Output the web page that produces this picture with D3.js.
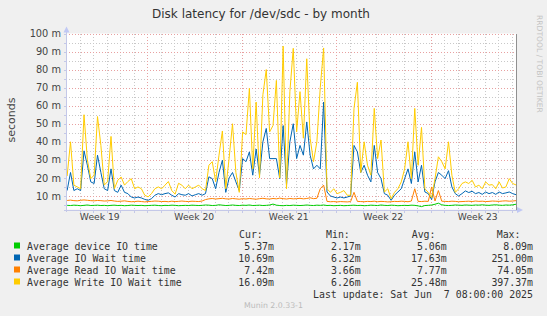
<!DOCTYPE html>
<html><head><meta charset="utf-8">
<script src="https://cdn.jsdelivr.net/npm/d3@7"></script>
<style>html,body{margin:0;padding:0;background:#f0f0f0;} svg{display:block;}</style>
</head><body>
<svg id="c" width="547" height="316"></svg>
<script>
// ---------- data ----------
const chartTitle = "Disk latency for /dev/sdc - by month";
const yAxisTitle = "seconds";
const sideText = "RRDTOOL / TOBI OETIKER";
const footerText = "Munin 2.0.33-1";
const lastUpdate = "Last update: Sat Jun  7 08:00:00 2025";

const seriesNames = ["Average device IO time", "Average IO Wait time", "Average Read IO Wait time", "Average Write IO Wait time"];
const seriesColors = ["#00CC00", "#0066B3", "#FF8000", "#FFCC00"];

const startTime = Date.UTC(2025, 4, 5, 0, 0, 0);
const endTime = Date.UTC(2025, 5, 7, 8, 0, 0);
const stepHours = 6;

// values in milliseconds (one sample per 6 hours, last sample = latest)
const deviceIO = [
4.8,4.7,4.9,4.8,4.6,4.8,5.0,4.7,4.8,4.9,
4.7,4.8,4.6,4.8,4.9,4.7,4.8,4.6,4.7,4.9,
4.8,4.7,4.8,4.6,4.7,4.8,4.9,4.7,4.6,4.8,
4.7,4.9,4.8,4.6,4.7,4.8,4.7,4.9,4.8,4.7,
4.8,5.0,4.9,4.7,4.8,5.1,4.9,4.7,4.8,5.0,
4.8,4.7,4.9,4.8,5.0,4.7,4.8,4.9,4.7,4.8,
5.0,5.5,4.9,4.7,4.6,4.8,4.7,4.9,4.8,4.7,
4.8,5.0,4.8,4.7,4.9,4.8,5.0,4.7,4.8,4.6,
4.7,4.8,4.6,4.7,4.8,4.9,4.7,4.8,4.6,4.7,
4.9,4.8,4.7,5.0,4.8,4.7,4.9,4.8,4.6,4.7,
4.8,4.7,4.9,4.8,4.5,4.1,4.7,4.8,5.0,5.4,
6.0,5.1,4.8,4.7,4.8,5.0,4.9,4.8,5.0,4.9,
4.8,5.0,4.9,5.1,4.9,4.8,5.0,5.1,4.9,4.8,
5.0,4.9,5.1,5.4
];
const ioWait = [
13,23,13,14,13,35,27,17.8,16.9,32.6,
23,14,13,25,13,12,16,12,11.3,9.4,
8.9,9.4,8.9,8.1,7.6,8.5,10.4,11.3,10.7,11.3,
11.7,10.4,9.4,11.3,10.7,10.4,11.3,10,10.7,11.3,
10.4,11.3,20.6,19.6,14,23,29.8,12,20,23,
17.8,13,30.7,29,34.4,21.5,36,21.5,40,47.4,
30.7,30.7,30.7,19.6,49,16,40,50,30.7,38,
32.6,51,32.6,25,27,25,62,12.2,10,9.4,
8.9,9.4,8.9,9.4,10,38,34.4,23,27,21.5,
17.8,38,23,19.6,11.3,10.4,7.6,10.4,12.2,14,
19.6,25,16.9,34.4,17.8,27,12.2,11.3,8,17.8,
23,21.5,19.6,24,15,11.3,10,11.3,12.8,11.9,
12.6,11.3,11.9,10.9,12.2,11.3,11.9,10.9,12.2,11.3,
11.7,12.2,11.3,10.7
];
const readWait = [
7.5,7.7,7.4,7.3,7.6,7.8,7.6,7.4,7.3,7.5,
7.4,7.2,7.3,7.5,7.2,7.0,7.1,7.3,7.0,6.8,
6.9,7.1,6.9,6.7,6.9,7.0,7.2,7.1,6.9,7.0,
6.8,7.1,6.9,7.0,7.2,7.0,6.9,7.1,7.0,6.9,
7.2,8.0,8.4,8.6,8.3,8.5,8.7,8.4,8.3,8.6,
8.4,8.2,8.5,8.3,8.6,8.4,8.2,8.5,8.7,8.4,
8.3,8.6,8.4,8.8,8.5,8.3,8.6,8.4,8.5,8.7,
8.4,8.6,9.0,8.5,8.7,14.0,16.0,7.0,6.8,6.9,
6.7,6.9,6.8,6.7,6.9,12.0,7.0,6.9,6.8,7.0,
6.9,7.1,6.8,7.0,6.9,6.7,6.8,7.0,6.9,7.1,
7.0,6.8,7.2,14.0,7.0,6.9,7.1,7.0,15.0,7.2,
13.0,7.1,7.0,6.9,7.1,7.0,6.8,6.9,7.0,7.1,
6.9,7.2,7.0,7.1,6.9,7.0,7.2,7.1,7.0,7.2,
7.3,7.1,7.2,7.4
];
const writeWait = [
21,40,16,15,14,55,30,19.6,21.5,54,
38,16,18,43,14,18.7,20.5,16,18,19.6,
14,15,14,10.4,9.5,11.3,14,15,14,16,
18,13,11,17,16,14,16,14,15,16,
14,13,27,29,18,32.6,46,14,31,50,
23,12,45.5,44,69.6,25,62,20,66,80,
45.5,49,74,20,93,14,67.8,91.8,45.5,67.8,
42,86,42,29,40,70,92,14,12,14,
11.3,12,13,10.4,10.4,58.5,73,23,40,27,
21.5,58.5,30.7,41,12.2,14,8.5,12,14,17.8,
25,40,19.6,58.5,27,48,14,12,9,19.6,
31.7,29,25,40,21.5,12,14,16.9,17.8,16.9,
18.7,15,16,14,17.8,16,16.3,14,17.8,14.4,
15,19.6,16.9,16.1
];

const yMajorTicks = [10, 20, 30, 40, 50, 60, 70, 80, 90, 100];
const yMinorTicks = [5, 15, 25, 35, 45, 55, 65, 75, 85, 95];
const weekLabels = ["Week 19", "Week 20", "Week 21", "Week 22", "Week 23"];

const legendHeaders = ["Cur:", "Min:", "Avg:", "Max:"];
const legendCur = ["5.37m", "10.69m", "7.42m", "16.09m"];
const legendMin = ["2.17m", "6.32m", "3.66m", "6.26m"];
const legendAvg = ["5.06m", "17.63m", "7.77m", "25.48m"];
const legendMax = ["8.09m", "251.00m", "74.05m", "397.37m"];

// ---------- drawing ----------
const svg = d3.select("#c");
const L = 66, R = 516, T = 33.5, B = 209.5;

const x = d3.scaleUtc().domain([new Date(startTime), new Date(endTime)]).range([L, R]);
const y = d3.scaleLinear().domain([2.5, 100]).range([B, T]);

svg.append("rect").attr("width", 547).attr("height", 316).attr("fill", "#f0f0f0");
svg.append("rect").attr("x", L).attr("y", T).attr("width", R - L).attr("height", B - T).attr("fill", "#ffffff");

const n = writeWait.length;
const times = d3.range(n).map(i => new Date(endTime - (n - 1 - i) * stepHours * 3600e3));

// grid
const grid = svg.append("g").attr("shape-rendering", "crispEdges");
const days = d3.utcDay.range(new Date(startTime + 1), new Date(endTime));
const sundays = d3.utcSunday.range(new Date(startTime), new Date(endTime));
const isSunday = d => d.getUTCDay() === 0;
grid.selectAll(".vmin").data(days.filter(d => !isSunday(d))).join("line")
  .attr("x1", d => Math.round(x(d)) + 0.5).attr("x2", d => Math.round(x(d)) + 0.5)
  .attr("y1", T).attr("y2", B)
  .attr("stroke", "#c8c8c8").attr("stroke-dasharray", "1,2");
grid.selectAll(".hmin").data(yMinorTicks).join("line")
  .attr("x1", L).attr("x2", R)
  .attr("y1", d => Math.round(y(d)) + 0.5).attr("y2", d => Math.round(y(d)) + 0.5)
  .attr("stroke", "#c8c8c8").attr("stroke-dasharray", "1,2");
grid.selectAll(".vmaj").data(sundays).join("line")
  .attr("x1", d => Math.round(x(d)) + 0.5).attr("x2", d => Math.round(x(d)) + 0.5)
  .attr("y1", T).attr("y2", B)
  .attr("stroke", "#e8a0a0").attr("stroke-dasharray", "1,2");
grid.selectAll(".hmaj").data(yMajorTicks).join("line")
  .attr("x1", L).attr("x2", R)
  .attr("y1", d => Math.round(y(d)) + 0.5).attr("y2", d => Math.round(y(d)) + 0.5)
  .attr("stroke", "#e8a0a0").attr("stroke-dasharray", "1,2");

// series
svg.append("clipPath").attr("id", "pc").append("rect")
  .attr("x", L).attr("y", T).attr("width", R - L).attr("height", B - T);
const lineGen = d3.line().x((d, i) => x(times[i])).y(d => y(d));
const allSeries = [deviceIO, ioWait, readWait, writeWait];
svg.append("g").attr("clip-path", "url(#pc)")
  .selectAll("path").data(allSeries).join("path")
  .attr("d", d => lineGen(d))
  .attr("fill", "none")
  .attr("stroke", (d, i) => seriesColors[i])
  .attr("stroke-width", 1)
  .attr("stroke-linejoin", "round");

// axes
const axisColor = "#c4c8e8";
const ax = svg.append("g").attr("shape-rendering", "crispEdges");
ax.append("line").attr("x1", L - 2).attr("x2", R + 2).attr("y1", B + 0.5).attr("y2", B + 0.5).attr("stroke", axisColor);
ax.append("line").attr("x1", L + 0.5).attr("x2", L + 0.5).attr("y1", T - 3).attr("y2", B + 2).attr("stroke", axisColor);
ax.selectAll(".xt").data(days).join("line")
  .attr("x1", d => Math.round(x(d)) + 0.5).attr("x2", d => Math.round(x(d)) + 0.5)
  .attr("y1", B + 1).attr("y2", B + 3).attr("stroke", axisColor);
ax.selectAll(".yt").data(yMajorTicks.concat(yMinorTicks)).join("line")
  .attr("x1", L - 2).attr("x2", L)
  .attr("y1", d => Math.round(y(d)) + 0.5).attr("y2", d => Math.round(y(d)) + 0.5).attr("stroke", axisColor);
svg.append("path").attr("d", `M${L + 0.5 - 3},${T - 1}L${L + 0.5 + 3},${T - 1}L${L + 0.5},${T - 7}Z`).attr("fill", "#c0c8f4");
svg.append("path").attr("d", `M${R + 1},${B + 0.5 - 3}L${R + 1},${B + 0.5 + 3}L${R + 7},${B + 0.5}Z`).attr("fill", "#c0c8f4");
svg.append("line").attr("x1", R + 0.5).attr("x2", R + 0.5).attr("y1", T).attr("y2", B)
  .attr("stroke", "#909090").attr("shape-rendering", "crispEdges");

// y labels
svg.append("g").selectAll("text").data(yMajorTicks).join("text")
  .attr("x", 61).attr("y", d => y(d) + 3.6)
  .attr("text-anchor", "end")
  .attr("font-family", "DejaVu Sans").attr("font-size", 9.8).attr("fill", "#444")
  .text(d => d + " m");

// x labels (centered on each week)
const weekStarts = d3.utcSunday.range(new Date(startTime - 7 * 864e5), new Date(endTime)).filter(d => +d + 7 * 864e5 > startTime);
svg.append("g").selectAll("text").data(weekLabels).join("text")
  .attr("x", (d, i) => x(new Date(+weekStarts[i] + 3.5 * 864e5)))
  .attr("y", 219.5)
  .attr("text-anchor", "middle")
  .attr("font-family", "DejaVu Sans").attr("font-size", 9.2).attr("fill", "#444")
  .text(d => d);

// title
svg.append("text").attr("x", 261).attr("y", 18).attr("text-anchor", "middle")
  .attr("font-family", "DejaVu Sans").attr("font-size", 12).attr("fill", "#333")
  .text(chartTitle);
svg.append("text").attr("transform", "translate(15,120) rotate(-90)").attr("text-anchor", "middle")
  .attr("font-family", "DejaVu Sans").attr("font-size", 11).attr("fill", "#444")
  .text(yAxisTitle);
svg.append("text").attr("transform", "translate(536.5,15) rotate(90)").attr("text-anchor", "start")
  .attr("font-family", "DejaVu Sans").attr("font-size", 7.6).attr("fill", "#c4c4c4")
  .text(sideText);

// legend
const mono = "DejaVu Sans Mono";
const lg = svg.append("g").attr("font-family", mono).attr("font-size", 9.9).attr("fill", "#333");
const headerX = [239, 326, 411.7, 496.7];
const colEnd = [274, 360.7, 446.7, 533];
lg.selectAll(".hd").data(legendHeaders).join("text")
  .attr("x", (d, i) => headerX[i]).attr("y", 237.5).text(d => d);
const rowY = i => 249.5 + i * 12;
lg.selectAll(".sw").data(seriesColors).join("rect")
  .attr("x", 14).attr("y", (d, i) => rowY(i) - 7).attr("width", 6).attr("height", 6)
  .attr("fill", d => d);
lg.selectAll(".nm").data(seriesNames).join("text")
  .attr("x", 27).attr("y", (d, i) => rowY(i)).text(d => d);
[legendCur, legendMin, legendAvg, legendMax].forEach((col, c) => {
  lg.selectAll(".c" + c).data(col).join("text").attr("class", "c" + c)
    .attr("x", colEnd[c]).attr("y", (d, i) => rowY(i)).attr("text-anchor", "end").text(d => d);
});
lg.append("text").attr("x", 533).attr("y", 297.5).attr("text-anchor", "end")
  .attr("xml:space", "preserve").style("white-space", "pre").text(lastUpdate);
svg.append("text").attr("x", 273.5).attr("y", 308).attr("text-anchor", "middle")
  .attr("font-family", "DejaVu Sans").attr("font-size", 7.8).attr("fill", "#bbbbbb")
  .text(footerText);
</script>
</body></html>
